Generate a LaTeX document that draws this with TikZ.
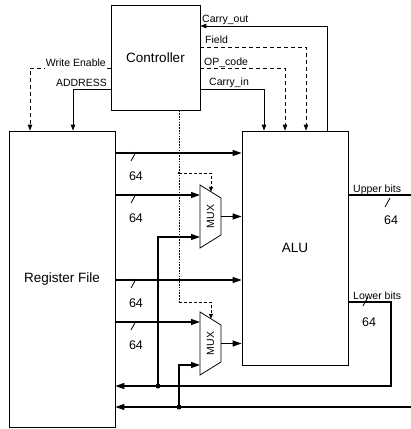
\documentclass[tikz,border=0pt]{standalone}
\usepackage{fontspec}
\setmainfont{Liberation Sans}
\usetikzlibrary{arrows.meta}
\begin{document}
\begin{tikzpicture}[x=1pt,y=-1pt,
  box/.style={draw, line width=0.8pt, inner sep=0pt, font=\fontsize{13.5}{16}\selectfont},
  data/.style={line width=1.3pt, -{Triangle[length=9pt,width=6pt]}},
  dline/.style={line width=1.3pt},
  ctl/.style={line width=0.9pt, -{Triangle[length=6pt,width=4.5pt]}},
  ctld/.style={ctl, dash pattern=on 4pt off 3pt},
  selline/.style={line width=0.6pt, dash pattern=on 1.6pt off 1.2pt},
  selarrow/.style={line width=0.7pt, dash pattern=on 3pt off 2pt, -{Triangle[length=5pt,width=4pt]}},
  lbl/.style={font=\fontsize{10.5}{12}\selectfont, inner sep=0pt},
  num/.style={font=\fontsize{12.5}{14}\selectfont, inner sep=0pt},
  bus/.style={line width=0.8pt},
  junc/.style={circle, fill, inner sep=0pt, minimum size=5pt},
  muxbox/.style={draw, line width=0.8pt},
  muxtext/.style={font=\fontsize{10.5}{12}\selectfont, rotate=90, inner sep=0pt}
]
\useasboundingbox (0,0) rectangle (411,429);

% main blocks
\node[box, minimum width=89pt, minimum height=105pt] (ctrl) at (155.5,57.5) {Controller};
\node[box, minimum width=106pt, minimum height=296pt] (rf) at (62,279) {Register File};
\node[box, minimum width=106pt, minimum height=234pt] (alu) at (295,248) {ALU};

% multiplexers
\coordinate (m1tl) at (200,185); \coordinate (m1tr) at (221,198);
\coordinate (m1br) at (221,235); \coordinate (m1bl) at (200,248);
\draw[muxbox] (m1tl) -- (m1tr) -- (m1br) -- (m1bl) -- cycle;
\node[muxtext] (mux1) at (210.5,216.5) {MUX};
\coordinate (m2tl) at (200,312); \coordinate (m2tr) at (221,325);
\coordinate (m2br) at (221,362); \coordinate (m2bl) at (200,375);
\draw[muxbox] (m2tl) -- (m2tr) -- (m2br) -- (m2bl) -- cycle;
\node[muxtext] (mux2) at (210.5,343.5) {MUX};

\coordinate (m1in1) at (200,195); \coordinate (m1in2) at (200,237);
\coordinate (m1out) at (221,216.5); \coordinate (m1top) at (211,191.8);
\coordinate (m2in1) at (200,322); \coordinate (m2in2) at (200,365);
\coordinate (m2out) at (221,343.5); \coordinate (m2top) at (211,318.8);

% controller signals
\draw[ctl] (alu.north -| 327,0) |- (ctrl.east |- 0,26);
\draw[ctld] (ctrl.east |- 0,47) -| (alu.north -| 306,0);
\draw[ctld] (ctrl.east |- 0,68) -| (alu.north -| 285,0);
\draw[ctl] (ctrl.east |- 0,89) -| (alu.north -| 264,0);
\draw[ctld] (ctrl.west |- 0,68) -| (rf.north -| 30,0);
\draw[ctl] (ctrl.west |- 0,89) -| (rf.north -| 73,0);

\node[lbl, anchor=base west] (lco) at (202,22.5) {Carry\_out};
\node[lbl, anchor=base west] (lfd) at (205,43.5) {Field};
\node[lbl, anchor=base west] (lop) at (204,65.5) {OP\_code};
\node[lbl, anchor=base west] (lci) at (209,85.5) {Carry\_in};
\node[lbl, anchor=base east, fill=white, inner xsep=1pt, inner ysep=2.6pt] (lwe) at (107,66) {Write Enable};
\node[lbl, anchor=base east] (lad) at (107,86) {ADDRESS};

% select lines
\coordinate (s1) at (179,173);
\coordinate (s2) at (179,302);
\draw[selline] (ctrl.south -| 179,0) -- (s2);
\draw[selarrow] (s1) -| (m1top);
\draw[selarrow] (s2) -| (m2top);
\fill (s1) circle (1.3pt);

% data paths
\coordinate (j3) at (158,386);
\coordinate (j4) at (179,407);
\coordinate (lcorner) at (391,386);
\coordinate (ubend) at (411,195);
\coordinate (bstart) at (411,407);

\draw[data] (rf.east |- 0,153) -- (alu.west |- 0,153);
\draw[data] (rf.east |- 0,195) -- (m1in1);
\draw[data] (j3) |- (m1in2);
\draw[data] (rf.east |- 0,280) -- (alu.west |- 0,280);
\draw[data] (rf.east |- 0,322) -- (m2in1);
\draw[data] (j4) |- (m2in2);
\draw[data] (m1out) -- (alu.west |- m1out);
\draw[data] (m2out) -- (alu.west |- m2out);
\draw[dline] (alu.east |- ubend) -- (ubend);
\draw[data] (alu.east |- 0,302) -| (lcorner) -- (rf.east |- lcorner);
\draw[data] (bstart) -- (rf.east |- bstart);
\node[junc] (dj3) at (j3) {};
\node[junc] (dj4) at (j4) {};

% bus widths
\foreach \yy/\nm in {153/a,195/b,280/c,322/d} {
  \draw[bus] (131,\yy+8) -- (136,\yy-1);
  \node[num] (n\nm) at (136,\yy+23) {64};
}
\node[lbl, anchor=base west] (lub) at (353,192.5) {Upper bits};
\draw[bus] (385,207) -- (390,198);
\node[num] (nub) at (391,220) {64};
\node[lbl, anchor=base west] (llb) at (353,299.5) {Lower bits};
\draw[bus] (363,306) -- (368,297);
\node[num] (nlb) at (369,322) {64};
\end{tikzpicture}
\end{document}
